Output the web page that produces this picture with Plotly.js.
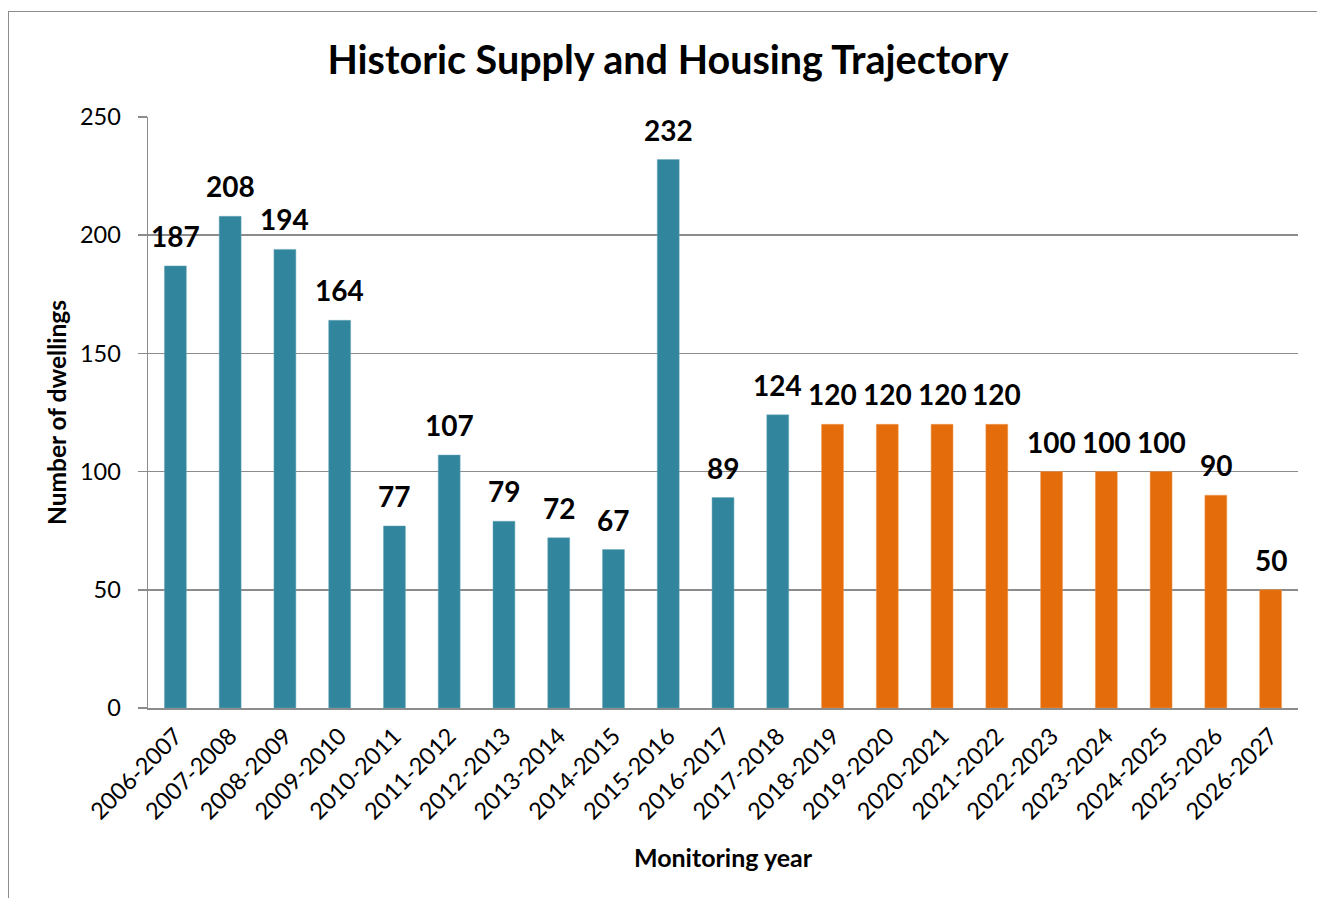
<!DOCTYPE html>
<html>
<head>
<meta charset="utf-8">
<script src="https://cdn.plot.ly/plotly-3.0.1.min.js"></script>
<style>
html,body{margin:0;padding:0;background:#fff;}
#frame{position:absolute;left:8px;top:11px;width:1400px;height:886px;border-left:1px solid #8c8c8c;border-top:1px solid #8c8c8c;}
#chart{position:absolute;left:0;top:0;width:1317px;height:899px;}
</style>
</head>
<body>
<div id="frame"></div>
<div id="chart"></div>
<script>
const historicYears = ["2006-2007","2007-2008","2008-2009","2009-2010","2010-2011","2011-2012","2012-2013","2013-2014","2014-2015","2015-2016","2016-2017","2017-2018"];
const historicValues = [187,208,194,164,77,107,79,72,67,232,89,124];
const trajectoryYears = ["2018-2019","2019-2020","2020-2021","2021-2022","2022-2023","2023-2024","2024-2025","2025-2026","2026-2027"];
const trajectoryValues = [120,120,120,120,100,100,100,90,50];
const allYears = historicYears.concat(trajectoryYears);
const yTicks = [0,50,100,150,200,250];

const FONT = "Lato, 'Open Sans', sans-serif";
const traces = [
  {type:"bar", x:historicYears, y:historicValues, width:0.4, name:"Historic supply",
   marker:{color:"#31859c", line:{color:"#6aa9bb", width:0.5}}, hoverinfo:"x+y"},
  {type:"bar", x:trajectoryYears, y:trajectoryValues, width:0.4, name:"Housing trajectory",
   marker:{color:"#e46c0a", line:{color:"#ee9a55", width:0.5}}, hoverinfo:"x+y"}
];
const annotations = [];
historicYears.forEach((c,i)=>annotations.push({x:c,y:historicValues[i],text:String(historicValues[i])}));
trajectoryYears.forEach((c,i)=>annotations.push({x:c,y:trajectoryValues[i],text:String(trajectoryValues[i])}));
annotations.forEach(a=>{a.xref="x";a.yref="y";a.showarrow=false;a.yanchor="bottom";a.yshift=11;a.font={family:FONT,size:28,color:"#000",weight:"bold"};});

const layout = {
  width:1317, height:899,
  paper_bgcolor:"rgba(0,0,0,0)", plot_bgcolor:"rgba(0,0,0,0)",
  margin:{l:148,r:19,t:117,b:191},
  showlegend:false,
  barmode:"overlay",
  title:{text:"<b>Historic Supply and Housing Trajectory</b>", x:0.5072, xanchor:"center", y:0.933, yanchor:"middle",
         font:{family:FONT,size:39.5,color:"#000"}},
  xaxis:{type:"category", categoryorder:"array", categoryarray:allYears, range:[-0.5,20.5],
         tickangle:-45, tickfont:{family:FONT,size:23.5,color:"#000"}, ticklabelstandoff:3,
         showline:true, linecolor:"#8c8c8c", linewidth:2, ticks:"", showgrid:false,
         title:{text:"<b>Monitoring year</b>", font:{family:FONT,size:25,color:"#000"}, standoff:26}},
  yaxis:{range:[0,250], tickvals:yTicks, ticktext:yTicks.map(String),
         tickfont:{family:FONT,size:23.5,color:"#000"}, ticklabelstandoff:12,
         showline:true, linecolor:"#8c8c8c", linewidth:1.5, ticks:"outside", ticklen:9, tickcolor:"#8c8c8c", tickwidth:1.5,
         showgrid:true, gridcolor:"#8c8c8c", gridwidth:1.5, zeroline:false,
         title:{text:"<b>Number of dwellings</b>", font:{family:FONT,size:24.5,color:"#000"}, standoff:6}},
  annotations:annotations
};
Plotly.newPlot("chart", traces, layout, {displayModeBar:false, staticPlot:true});
</script>
</body>
</html>
